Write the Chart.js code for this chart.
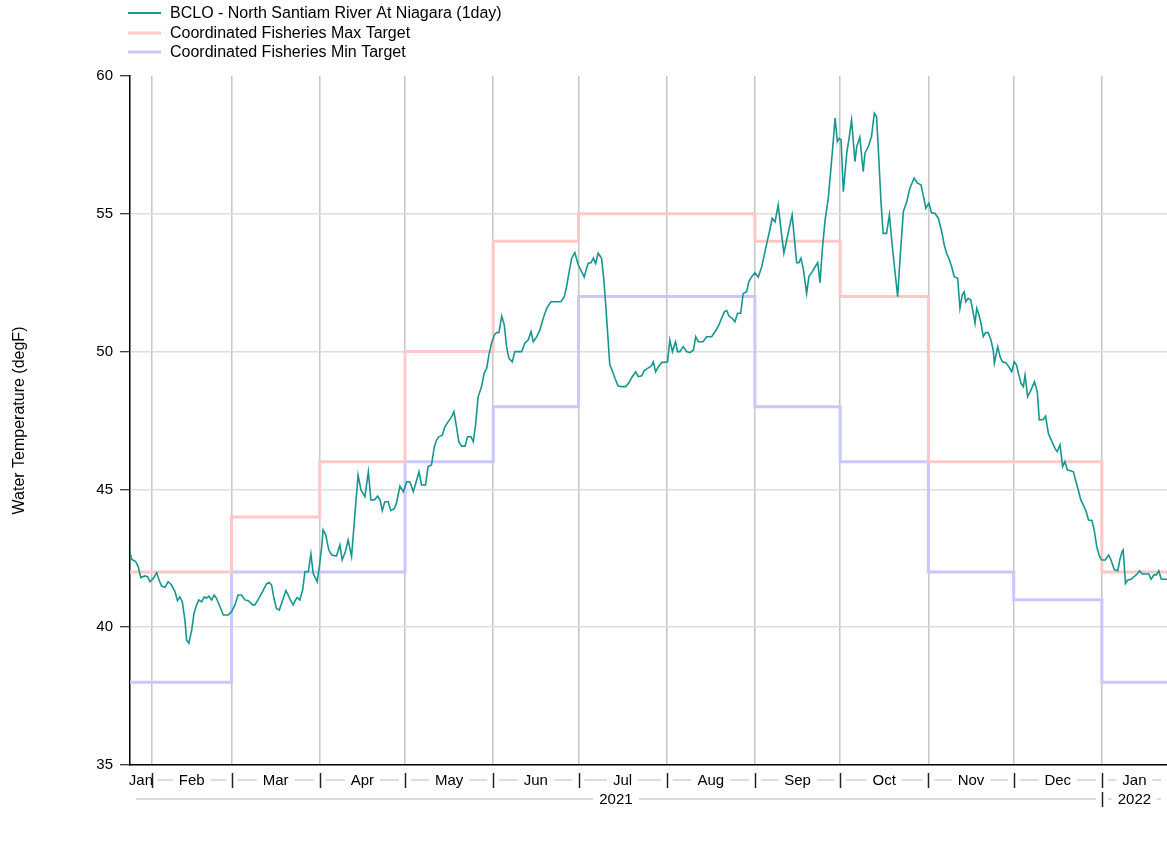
<!DOCTYPE html>
<html>
<head>
<meta charset="utf-8">
<script src="https://cdn.jsdelivr.net/npm/chart.js@4.4.1/dist/chart.umd.min.js"></script>
<style>
  html, body { margin: 0; padding: 0; background: #fff; }
  canvas { display: block; }
</style>
</head>
<body>
<canvas id="chart" width="1167" height="841"></canvas>
<script>
// day number counted from 1 Jan 2021 (day 0)
const obsDays = [
  22.9, 23.9, 25.3, 26.2, 27.1, 28.5, 29.5, 30.3, 31.5, 32.7, 33.5, 34.4, 35.6, 36.7, 37.9, 39.1,
  40.0, 40.8, 41.7, 42.6, 43.2, 44.0, 45.0, 45.8, 46.7, 47.5, 48.5, 49.4, 50.2, 51.0, 52.0, 52.9,
  53.7, 54.9, 56.1, 57.8, 59.0, 60.2, 61.3, 62.5, 63.7, 64.9, 66.4, 67.2, 68.4, 69.9, 71.3, 72.2,
  73.1, 73.9, 74.8, 75.8, 76.6, 78.1, 78.9, 79.8, 80.7, 81.5, 82.1, 83.0, 84.0, 84.8, 86.0, 86.9,
  87.7, 89.1, 89.8, 90.7, 91.2, 92.1, 93.2, 94.2, 95.9, 97.1, 97.9, 99.0, 100.0, 101.2, 102.4, 103.5,
  104.5, 105.9, 107.1, 108.0, 109.2, 110.4, 111.2, 112.0, 112.9, 114.1, 115.0, 116.2, 117.0, 118.2, 119.4, 120.6,
  121.7, 122.9, 124.1, 124.9, 125.8, 127.2, 128.1, 129.3, 130.3, 131.1, 131.9, 133.1, 134.0, 135.2, 136.4, 137.2,
  138.1, 138.9, 139.9, 141.1, 142.0, 143.2, 144.0, 144.8, 145.7, 146.9, 147.8, 148.7, 149.5, 150.4, 151.4, 152.2,
  153.0, 154.0, 154.9, 155.7, 156.5, 157.7, 158.6, 159.8, 161.0, 162.2, 163.3, 164.3, 165.1, 166.3, 167.4, 168.6,
  169.8, 171.3, 173.3, 174.8, 176.0, 176.8, 177.6, 178.6, 179.7, 180.9, 182.1, 183.0, 183.8, 184.4, 185.4, 186.2,
  187.0, 187.9, 189.1, 189.9, 190.6, 191.4, 192.0, 192.8, 193.8, 194.9, 196.1, 197.6, 198.7, 199.9, 201.1, 202.0,
  203.2, 204.1, 205.3, 206.6, 207.3, 208.1, 209.1, 210.3, 211.4, 212.3, 213.1, 214.0, 215.1, 215.8, 216.6, 217.8,
  219.0, 220.2, 221.4, 222.2, 223.1, 224.8, 226.0, 227.8, 229.0, 230.2, 231.3, 232.3, 233.1, 233.9, 235.0, 236.0,
  236.9, 238.0, 238.9, 240.1, 240.9, 241.9, 243.0, 244.2, 245.4, 246.3, 247.5, 248.3, 249.1, 250.1, 251.2, 252.2,
  253.2, 254.2, 255.3, 256.1, 257.7, 258.5, 259.2, 260.0, 261.2, 262.0, 263.2, 264.1, 265.1, 265.9, 266.7, 267.7,
  268.8, 269.8, 270.6, 271.2, 272.0, 272.7, 273.3, 274.1, 275.3, 276.2, 277.0, 278.2, 278.8, 279.9, 281.1, 281.7,
  282.9, 284.0, 285.0, 285.8, 286.6, 287.3, 288.1, 289.3, 290.3, 291.1, 292.2, 293.2, 294.0, 295.2, 296.4, 297.5,
  299.0, 300.2, 301.4, 302.2, 303.1, 304.2, 305.1, 306.3, 307.5, 308.7, 309.6, 310.4, 311.2, 312.2, 313.1, 314.3,
  315.1, 315.9, 316.6, 317.1, 318.0, 318.9, 319.8, 320.4, 321.0, 321.8, 322.5, 323.3, 324.1, 325.0, 326.0, 326.8,
  327.2, 328.4, 329.2, 330.0, 331.2, 332.3, 333.3, 334.2, 335.0, 335.8, 336.6, 337.4, 338.0, 338.9, 340.1, 341.3,
  342.3, 343.0, 344.4, 345.2, 346.2, 347.3, 348.5, 349.3, 350.3, 351.2, 352.0, 352.9, 354.0, 355.0, 355.9, 356.7,
  357.6, 358.5, 359.5, 360.3, 361.5, 362.3, 363.2, 364.2, 365.0, 366.2, 367.4, 368.2, 369.4, 370.6, 371.3, 372.1,
  372.5, 373.3, 374.1, 375.3, 376.2, 377.4, 378.3, 379.2, 380.3, 381.5, 382.3, 383.3, 384.2, 385.0, 385.9, 387.0,
  388.0
];
const obsTemp = [
  42.86, 42.46, 42.38, 42.20, 41.80, 41.86, 41.83, 41.65, 41.77, 41.98, 41.71, 41.49, 41.45, 41.65, 41.53, 41.29,
  40.96, 41.10, 40.92, 40.26, 39.54, 39.42, 39.90, 40.50, 40.81, 40.99, 40.92, 41.10, 41.05, 41.13, 40.99, 41.17,
  41.05, 40.75, 40.44, 40.44, 40.56, 40.81, 41.17, 41.17, 40.99, 40.96, 40.81, 40.81, 41.01, 41.29, 41.57, 41.62,
  41.53, 41.05, 40.68, 40.62, 40.87, 41.32, 41.17, 40.96, 40.81, 40.99, 41.08, 40.99, 41.35, 42.01, 42.01, 42.66,
  41.96, 41.65, 42.14, 42.92, 43.53, 43.35, 42.80, 42.62, 42.58, 42.98, 42.44, 42.74, 43.16, 42.56, 44.13, 45.52,
  44.98, 44.74, 45.64, 44.62, 44.62, 44.76, 44.62, 44.23, 44.55, 44.55, 44.23, 44.30, 44.50, 45.12, 44.92, 45.28,
  45.28, 44.92, 45.34, 45.64, 45.16, 45.16, 45.83, 45.89, 46.55, 46.79, 46.91, 46.97, 47.27, 47.46, 47.64, 47.82,
  47.27, 46.73, 46.57, 46.57, 46.91, 46.91, 46.73, 47.34, 48.36, 48.73, 49.21, 49.39, 49.88, 50.30, 50.60, 50.69,
  50.69, 51.29, 50.96, 50.18, 49.76, 49.63, 50.00, 50.00, 50.00, 50.32, 50.42, 50.72, 50.36, 50.54, 50.78, 51.21,
  51.57, 51.81, 51.81, 51.81, 51.99, 52.36, 52.84, 53.39, 53.59, 53.14, 52.90, 52.70, 53.02, 53.20, 53.23, 53.39,
  53.20, 53.57, 53.39, 52.60, 51.63, 50.42, 49.51, 49.33, 49.03, 48.75, 48.73, 48.73, 48.87, 49.09, 49.27, 49.09,
  49.12, 49.31, 49.39, 49.48, 49.63, 49.27, 49.45, 49.61, 49.61, 49.63, 50.42, 50.00, 50.36, 50.00, 50.00, 50.18,
  50.00, 49.96, 50.06, 50.54, 50.36, 50.36, 50.54, 50.54, 50.72, 50.93, 51.21, 51.45, 51.49, 51.29, 51.21, 51.08,
  51.39, 51.39, 52.11, 52.17, 52.54, 52.72, 52.86, 52.70, 53.08, 53.51, 54.07, 54.44, 54.84, 54.71, 55.32, 54.41,
  53.57, 54.05, 54.59, 54.96, 53.23, 53.23, 53.39, 53.02, 52.11, 52.72, 52.90, 53.06, 53.23, 52.50, 53.69, 54.78,
  55.56, 56.71, 57.68, 58.47, 57.62, 57.74, 57.68, 55.80, 57.20, 57.80, 58.40, 56.89, 57.44, 57.78, 56.53, 57.20,
  57.44, 57.80, 58.65, 58.52, 56.95, 55.50, 54.29, 54.29, 54.96, 54.05, 52.96, 51.99, 53.32, 55.08, 55.44, 55.93,
  56.29, 56.11, 56.05, 55.68, 55.20, 55.38, 55.04, 55.02, 54.84, 54.35, 53.87, 53.57, 53.39, 53.08, 52.72, 52.66,
  51.57, 52.05, 52.17, 51.81, 51.93, 51.87, 51.39, 51.03, 51.57, 51.33, 51.03, 50.54, 50.69, 50.69, 50.42, 50.06,
  49.58, 50.18, 49.82, 49.63, 49.60, 49.45, 49.27, 49.63, 49.51, 49.15, 48.85, 48.73, 49.15, 48.36, 48.61, 48.91,
  48.54, 47.52, 47.54, 47.66, 47.03, 46.77, 46.49, 46.37, 46.61, 45.83, 46.01, 45.70, 45.68, 45.64, 45.28, 44.98,
  44.62, 44.43, 44.19, 43.89, 43.87, 43.53, 42.92, 42.56, 42.44, 42.44, 42.62, 42.44, 42.08, 42.05, 42.44, 42.74,
  42.80, 41.59, 41.71, 41.74, 41.83, 41.93, 42.05, 41.93, 41.93, 41.93, 41.74, 41.90, 41.90, 42.05, 41.74, 41.74,
  41.74
];

// month starts (day number) and labels, Jan 2021 .. Feb 2022
const monthStart = [0, 31, 59, 90, 120, 151, 181, 212, 243, 273, 304, 334, 365, 396];
const monthLabel = ['Jan', 'Feb', 'Mar', 'Apr', 'May', 'Jun', 'Jul', 'Aug', 'Sep', 'Oct', 'Nov', 'Dec', 'Jan'];
const yearStart = [0, 365, 730];
const yearLabel = ['2021', '2022'];

// fisheries targets, one value per month (Jan 2021 .. Jan 2022)
const maxTarget = [42, 42, 44, 46, 50, 54, 55, 55, 54, 52, 46, 46, 42];
const minTarget = [38, 38, 42, 42, 46, 48, 52, 52, 48, 46, 42, 41, 38];

const yTicks = [35, 40, 45, 50, 55, 60];
const xMin = 23.3, xMax = 387.9;

const seriesNames = [
  'BCLO - North Santiam River At Niagara (1day)',
  'Coordinated Fisheries Max Target',
  'Coordinated Fisheries Min Target'
];
const seriesColors = ['#17968f', 'rgba(255,200,200,1)', 'rgba(200,200,255,1)'];

const FONT = '"Liberation Sans", Arial, Helvetica, sans-serif';

// step series: value holds from the month start until the next one
function stepPoints(values) {
  const pts = values.map((v, i) => ({ x: Math.max(monthStart[i], xMin), y: v }));
  pts.push({ x: xMax, y: values[values.length - 1] });
  return pts;
}

const obsPoints = obsDays.map((d, i) => ({ x: d, y: obsTemp[i] }));

// month / year label rows and the legend
const decorPlugin = {
  id: 'decor',
  afterDraw(chart) {
    const ctx = chart.ctx;
    const xs = chart.scales.x;
    const area = chart.chartArea;
    ctx.save();

    const rowLabels = (starts, labels, yRow, sepTop, sepBot) => {
      ctx.font = '15px ' + FONT;
      ctx.textAlign = 'center';
      ctx.textBaseline = 'middle';
      for (let i = 0; i < labels.length; i++) {
        const s0 = Math.max(starts[i], xMin), s1 = Math.min(starts[i + 1], xMax);
        if (s1 <= s0) continue;
        const a = xs.getPixelForValue(s0), b = xs.getPixelForValue(s1);
        const c = (a + b) / 2;
        const w = ctx.measureText(labels[i]).width;
        ctx.strokeStyle = '#b9b9b9';
        ctx.lineWidth = 1.2;
        ctx.beginPath();
        if (c - w / 2 - 6 > a + 6) { ctx.moveTo(a + 6, yRow); ctx.lineTo(c - w / 2 - 6, yRow); }
        if (b - 6 > c + w / 2 + 6) { ctx.moveTo(c + w / 2 + 6, yRow); ctx.lineTo(b - 6, yRow); }
        ctx.stroke();
        ctx.fillStyle = '#000';
        ctx.fillText(labels[i], c, yRow + 1);
      }
      ctx.strokeStyle = '#222';
      ctx.lineWidth = 1.5;
      starts.forEach(s => {
        if (s <= xMin || s >= xMax) return;
        const p = Math.round(xs.getPixelForValue(s)) + 0.5;
        ctx.beginPath();
        ctx.moveTo(p, sepTop);
        ctx.lineTo(p, sepBot);
        ctx.stroke();
      });
    };
    rowLabels(monthStart, monthLabel, 780, 773, 788);
    rowLabels(yearStart, yearLabel, 799, 792, 807);

    // y axis title
    ctx.save();
    ctx.translate(20, (area.top + area.bottom) / 2);
    ctx.rotate(-Math.PI / 2);
    ctx.font = '16px ' + FONT;
    ctx.fillStyle = '#000';
    ctx.textAlign = 'center';
    ctx.textBaseline = 'middle';
    ctx.fillText('Water Temperature (degF)', 0, 0);
    ctx.restore();

    // legend
    const legendY = [13, 33, 52];
    const legendW = [2, 3, 3];
    ctx.font = '16px ' + FONT;
    ctx.textAlign = 'left';
    ctx.textBaseline = 'middle';
    seriesNames.forEach((name, i) => {
      ctx.strokeStyle = seriesColors[i];
      ctx.lineWidth = legendW[i];
      ctx.beginPath();
      ctx.moveTo(128, legendY[i]);
      ctx.lineTo(161, legendY[i]);
      ctx.stroke();
      ctx.fillStyle = '#000';
      ctx.fillText(name, 170, legendY[i] + 1);
    });
    ctx.restore();
  }
};

new Chart(document.getElementById('chart').getContext('2d'), {
  type: 'line',
  data: {
    datasets: [
      {
        label: seriesNames[0],
        data: obsPoints,
        borderColor: seriesColors[0],
        borderWidth: 1.6,
        pointRadius: 0,
        tension: 0
      },
      {
        label: seriesNames[1],
        data: stepPoints(maxTarget),
        borderColor: seriesColors[1],
        borderWidth: 3,
        pointRadius: 0,
        stepped: 'before'
      },
      {
        label: seriesNames[2],
        data: stepPoints(minTarget),
        borderColor: seriesColors[2],
        borderWidth: 3,
        pointRadius: 0,
        stepped: 'before'
      }
    ]
  },
  options: {
    responsive: false,
    animation: false,
    events: [],
    layout: { padding: { top: 76, left: 0, right: 0, bottom: 0 } },
    plugins: {
      legend: { display: false },
      tooltip: { enabled: false }
    },
    scales: {
      x: {
        type: 'linear',
        min: xMin,
        max: xMax,
        afterFit(scale) { scale.height = 76; },
        afterBuildTicks(scale) {
          scale.ticks = monthStart.filter(d => d > xMin && d < xMax).map(d => ({ value: d }));
        },
        ticks: { display: false },
        grid: {
          color: '#c6c6c6',
          lineWidth: 1.5,
          drawTicks: false
        },
        border: { display: true, color: '#000', width: 1.5 }
      },
      y: {
        min: 35,
        max: 60,
        afterFit(scale) { scale.width = 130; },
        afterBuildTicks(scale) {
          scale.ticks = yTicks.map(v => ({ value: v }));
        },
        ticks: {
          color: '#000',
          padding: 7,
          font: { family: FONT, size: 15 }
        },
        grid: {
          color: ctx => (ctx.tick && (ctx.tick.value === 35 || ctx.tick.value === 60)) ? 'rgba(0,0,0,0)' : '#dedede',
          lineWidth: 1.5,
          tickColor: '#000',
          tickLength: 10,
          tickWidth: 1
        },
        border: { display: true, color: '#000', width: 1.5 }
      }
    }
  },
  plugins: [decorPlugin]
});
</script>
</body>
</html>
